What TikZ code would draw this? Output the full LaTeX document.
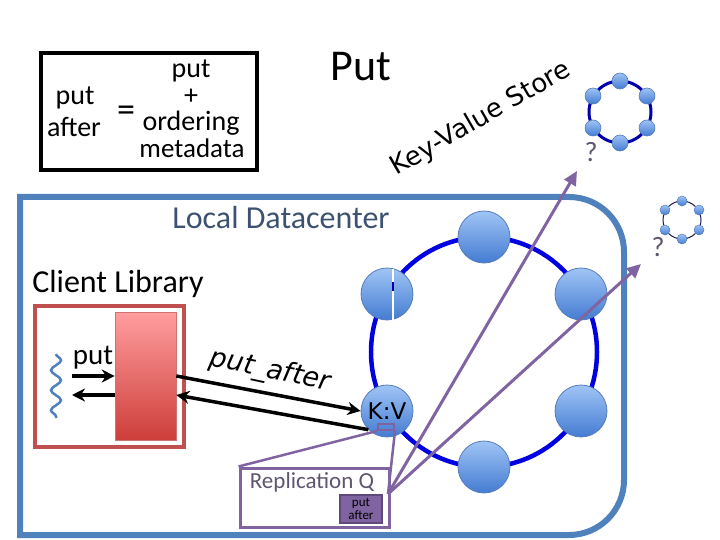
\documentclass[tikz,border=0pt]{standalone}
\usepackage{fontspec}
\setmainfont{Carlito}
\newfontfamily\dvs{DejaVu Sans}
\usetikzlibrary{arrows.meta,decorations.pathmorphing,calc}
\definecolor{dcblue}{RGB}{79,129,189}
\definecolor{redbrd}{RGB}{192,80,77}
\definecolor{redtop}{RGB}{255,158,158}
\definecolor{redbot}{RGB}{205,62,58}
\definecolor{purp}{RGB}{128,100,162}
\definecolor{purpdk}{RGB}{95,73,122}
\definecolor{ringblue}{RGB}{0,0,225}
\definecolor{smallring}{RGB}{0,0,175}
\definecolor{tinyring}{RGB}{25,25,80}
\definecolor{nodetop}{RGB}{160,196,245}
\definecolor{nodebot}{RGB}{68,124,210}
\definecolor{nodebrd}{RGB}{85,125,185}
\definecolor{dctext}{RGB}{60,82,112}
\definecolor{qgray}{RGB}{95,85,110}
\newcommand\fsz[1]{\fontsize{#1pt}{#1pt}\selectfont}
\begin{document}
\begin{tikzpicture}[x=1pt,y=-1pt,
  ringnode/.style={circle,draw=nodebrd,line width=0.8pt,top color=nodetop,bottom color=nodebot,minimum size=52pt,inner sep=0pt},
  smallnode/.style={circle,draw=nodebrd,line width=0.6pt,top color=nodetop,bottom color=nodebot,minimum size=16pt,inner sep=0pt},
  tinynode/.style={circle,draw=nodebrd,line width=0.5pt,top color=nodetop,bottom color=nodebot,minimum size=10pt,inner sep=0pt},
  txt/.style={inner sep=0pt,anchor=base},
  blk/.style={line width=3.5pt,-{Stealth[length=13pt,width=13pt]}},
  parrow/.style={purp,line width=3pt,-{Triangle[length=14pt,width=13pt]}},
  zline/.style={purp,line width=2.5pt}]
\useasboundingbox (0,0) rectangle (720,540);
% formula box
\draw[line width=4pt] (41,53) rectangle (257,170);
\node[txt,font=\fsz{28}] (f1) at (75,105) {put};
\node[txt,font=\fsz{28}] (f2) at (74,137) {after};
\node[font=\fsz{36}] (feq) at (126,114) {=};
\node[txt,font=\fsz{28}] (f3) at (191,78) {put};
\node[font=\fsz{28}] (f4) at (191,97) {+};
\node[txt,font=\fsz{28}] (f5) at (191,131) {ordering};
\node[txt,font=\fsz{27}] (f6) at (192,158) {metadata};
% titles
\node[txt,font=\fsz{44}] (put) at (361,81) {Put};
\node[font=\dvs\fsz{26},rotate=30] (kvs) at (481,119) {Key-Value Store};
% small remote ring
\draw[smallring,line width=3pt] (620,112) circle (31);
\foreach \p/\n in {{(620,81)}/s1,{(593,96)}/s2,{(647,96)}/s3,{(593,128)}/s4,{(647,128)}/s5,{(620,143)}/s6}
  \node[smallnode] (\n) at \p {};
\node[font=\fsz{28},text=qgray] (q1) at (591,152) {?};
% tiny remote ring
\draw[tinyring,line width=1pt] (682,220) circle (19);
\foreach \p/\n in {{(682,201)}/t1,{(665,210)}/t2,{(699,210)}/t3,{(665,230)}/t4,{(699,230)}/t5,{(682,239)}/t6}
  \node[tinynode] (\n) at \p {};
\node[font=\fsz{28},text=qgray] (q2) at (658,247) {?};
% local datacenter
\draw[dcblue,line width=6pt,line join=miter] (20,535) -- (20,197) -- (569,197)
  .. controls (599.4,197) and (624,221.6) .. (624,252) -- (624,480)
  .. controls (624,510.4) and (599.4,535) .. (569,535) -- cycle;
\node[txt,font=\fsz{32},text=dctext] (ldc) at (281,229) {Local Datacenter};
\node[txt,font=\fsz{32}] (cl) at (118,292) {Client Library};
% client library
\draw[redbrd,line width=4pt] (35,306) rectangle (184,447);
\node[draw=redbrd!80,line width=0.6pt,top color=redtop,bottom color=redbot,minimum width=61pt,minimum height=128pt,inner sep=0pt] (lib) at (145.5,376) {};
\draw[dcblue,line width=2.5pt,decorate,decoration={snake,amplitude=5pt,segment length=20pt}] (56,354) -- (56,418);
\node[txt,font=\fsz{29}] (putl) at (93,364) {put};
\coordinate (pin) at (72,376);
\coordinate (pout) at (72,395);
\draw[blk] (pin) -- (pin -| lib.west);
\draw[blk] (pout -| lib.west) -- (pout);
% ring
\draw[ringblue,line width=4.5pt] (484,352) ellipse [x radius=113, y radius=115];
\node[ringnode] (r1) at (484,237) {};
\node[ringnode] (r2) at (387,294) {};
\node[ringnode] (r3) at (581,294) {};
\node[ringnode,font=\dvs\fsz{23}] (kv) at (387,411) {K:V};
\node[ringnode] (r5) at (581,411) {};
\node[ringnode] (r6) at (484,467) {};
\draw[white,line width=1.2pt] (393,269) -- (393,320);
\draw[smallring,line width=1.2pt] (393,282) -- (393,291);
% put_after arrows
\draw[blk] (lib.east) -- (kv.west);
\draw[blk] (kv.225) -- ($(lib.east)+(0,19)$);
\node[font=\dvs\itshape\fsz{27},rotate=-12] (pal) at (270,371) {put\_after};
% replication queue
\node[draw=purp,line width=3pt,minimum width=149pt,minimum height=59pt,inner sep=0pt] (rq) at (314.5,497.5) {};
\node[txt,font=\fsz{23},text=qgray] (rqt) at (312,488) {Replication Q};
\node[fill=purp,draw=purpdk,line width=1.5pt,minimum width=42pt,minimum height=28pt,inner sep=0pt,align=center,font=\fontsize{13pt}{13pt}\selectfont] (pa) at (361,509) {put\\after};
\node[draw=purp,line width=2pt,minimum width=16pt,minimum height=6pt,inner sep=0pt] (zr) at (386,427) {};
\coordinate (qsrc) at (388,494);
\draw[zline] (zr.south west) -- (rq.north west);
\draw[zline] (zr.south east) -- (qsrc);
\coordinate (tgt1) at (577,171);
\coordinate (tgt2) at (641,264);
\draw[parrow] (qsrc) -- (tgt1);
\draw[parrow] (qsrc) -- (tgt2);
\end{tikzpicture}
\end{document}
